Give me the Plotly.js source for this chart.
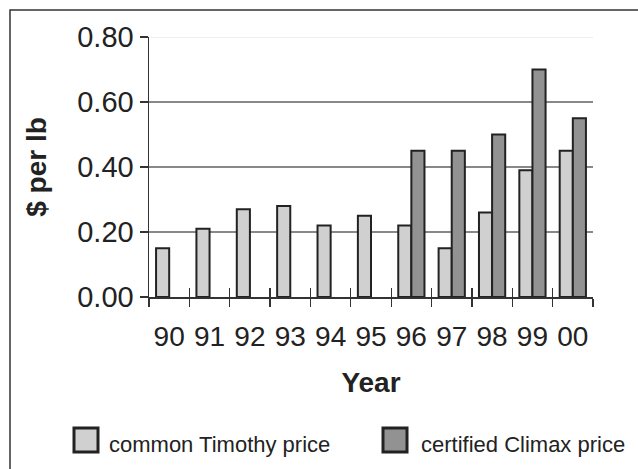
<!DOCTYPE html>
<html>
<head>
<meta charset="utf-8">
<script src="https://cdn.plot.ly/plotly-3.0.1.min.js"></script>
<style>html,body{margin:0;padding:0;background:#fff;}</style>
</head>
<body>
<div id="chart" style="width:638px;height:469px;"></div>
<script>
var years = ["90","91","92","93","94","95","96","97","98","99","00"];
var timothyPrice = [0.15,0.21,0.27,0.28,0.22,0.25,0.22,0.15,0.26,0.39,0.45];
var climaxPrice = [null,null,null,null,null,null,0.45,0.45,0.50,0.70,0.55];
var seriesNames = ["common Timothy price","certified Climax price"];
var seriesColors = ["#d0d0d0","#929292"];
var yTicks = [0,0.2,0.4,0.6,0.8];
var yTickText = ["0.00","0.20","0.40","0.60","0.80"];

var FONT = "Liberation Sans, Arial, Helvetica, sans-serif";
var W = 638, H = 469, L = 149, R = 45, T = 37, B = 172;
var pw = W - L - R, ph = H - T - B;
function px(x){ return (x - L) / pw; }
function py(y){ return (H - B - y) / ph; }

var outline = {color:"#222", width:2};
var traces = [
  {type:"bar", x:years, y:timothyPrice, name:seriesNames[0],
   marker:{color:seriesColors[0], line:outline}, showlegend:false, hoverinfo:"x+y"},
  {type:"bar", x:years, y:climaxPrice, name:seriesNames[1],
   marker:{color:seriesColors[1], line:outline}, showlegend:false, hoverinfo:"x+y"},
  {type:"scatter", x:[], y:[], xaxis:"x2", yaxis:"y", showlegend:false, hoverinfo:"skip"}
];

var shapes = [
  {type:"line", xref:"paper", yref:"y", x0:0.003, x1:1, y0:0.8, y1:0.8, layer:"above",
   line:{color:"#eeeeee", width:2}},
  {type:"path", xref:"paper", yref:"paper",
   path:"M "+px(10)+" "+py(480)+" L "+px(10)+" "+py(10)+" L "+px(650)+" "+py(10),
   line:{color:"#333", width:1.5}},
  {type:"rect", xref:"paper", yref:"paper", x0:px(74), x1:px(98), y0:py(452), y1:py(428),
   fillcolor:seriesColors[0], line:{color:"#222", width:3}},
  {type:"rect", xref:"paper", yref:"paper", x0:px(383), x1:px(407), y0:py(452), y1:py(428),
   fillcolor:seriesColors[1], line:{color:"#222", width:3}}
];

var annotations = [
  {xref:"paper", yref:"paper", x:px(107), y:py(444), xanchor:"left", yanchor:"middle",
   text:seriesNames[0], showarrow:false, font:{family:FONT, size:22, color:"#222"}},
  {xref:"paper", yref:"paper", x:px(419), y:py(444), xanchor:"left", yanchor:"middle",
   text:seriesNames[1], showarrow:false, font:{family:FONT, size:22, color:"#222"}}
];

var layout = {
  width:W, height:H,
  margin:{l:L, r:R, t:T, b:B, pad:0},
  paper_bgcolor:"#fff", plot_bgcolor:"#fff",
  barmode:"group", bargap:0.35, bargroupgap:0,
  showlegend:false,
  font:{family:FONT, color:"#222"},
  xaxis:{
    type:"category", categoryorder:"array", categoryarray:years,
    showline:true, linecolor:"#333", linewidth:1.5,
    ticks:"outside", ticklen:8, tickcolor:"#333", tickwidth:1.2, tickson:"boundaries",
    tickangle:0,
    tickfont:{family:FONT, size:28, color:"#222"}, ticklabelstandoff:14,
    showgrid:false, zeroline:false,
    title:{text:"<b>Year</b>", font:{family:FONT, size:28, color:"#222"}, standoff:21}
  },
  xaxis2:{
    type:"linear", overlaying:"x", anchor:"y", side:"bottom",
    range:[-0.5,10.5], tickmode:"linear", tick0:-0.5, dtick:1,
    ticks:"inside", ticklen:9, tickcolor:"#333", tickwidth:1.2,
    showticklabels:false, showgrid:false, showline:false, zeroline:false
  },
  yaxis:{
    range:[0,0.8], tickvals:yTicks, ticktext:yTickText,
    showline:true, linecolor:"#333", linewidth:1.5,
    ticks:"outside", ticklen:8, tickcolor:"#333", tickwidth:1.2,
    tickfont:{family:FONT, size:29, color:"#222"}, ticklabelstandoff:0,
    showgrid:true, gridcolor:"#888", gridwidth:1.3, zeroline:false,
    title:{text:"<b>$ per lb</b>", font:{family:FONT, size:28, color:"#222"}, standoff:22}
  },
  shapes:shapes,
  annotations:annotations
};

Plotly.newPlot("chart", traces, layout, {displayModeBar:false, staticPlot:true});
</script>
</body>
</html>
